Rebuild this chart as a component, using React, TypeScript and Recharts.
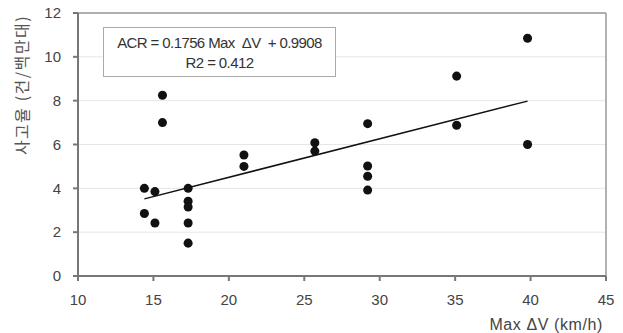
import {
  CartesianGrid,
  ReferenceLine,
  Scatter,
  ScatterChart,
  XAxis,
  YAxis,
  ZAxis,
} from "recharts";

// observed points (Max ΔV km/h, accident rate)
const maxDv = [
  14.4, 14.4, 15.1, 15.1, 15.6, 15.6, 17.3, 17.3, 17.3, 17.3, 17.3, 21.0, 21.0,
  25.7, 25.7, 29.2, 29.2, 29.2, 29.2, 35.1, 35.1, 39.8, 39.8,
];
const acr = [
  4.0, 2.85, 3.85, 2.42, 8.25, 7.0, 4.0, 3.41, 3.15, 2.42, 1.5, 5.0, 5.52, 6.08,
  5.7, 6.95, 5.02, 4.55, 3.92, 9.12, 6.88, 10.85, 6.0,
];

// regression line endpoints
const trendX = [14.4, 39.8];
const trendY = [3.52, 7.98];

const xTicks = [10, 15, 20, 25, 30, 35, 40, 45];
const yTicks = [0, 2, 4, 6, 8, 10, 12];

const points = maxDv.map((x, i) => ({ x, y: acr[i] }));
const trend = trendX.map((x, i) => ({ x, y: trendY[i] }));

const font = "'Liberation Sans', Arial, sans-serif";
const tickStyle = { fill: "#444", fontSize: 15, fontFamily: font };

export default function App() {
  return (
    <div style={{ position: "absolute", left: 0, top: 0, width: 623, height: 333, background: "#fff" }}>
      <ScatterChart width={623} height={333} margin={{ top: 13, right: 17, bottom: 0, left: 0 }}>
        <CartesianGrid vertical={false} stroke="#e6e6e6" />
        <XAxis
          type="number"
          dataKey="x"
          domain={[10, 45]}
          ticks={xTicks}
          height={57}
          tickSize={5}
          tickMargin={13}
          stroke="#777"
          strokeWidth={2}
          tick={tickStyle}
          label={{
            value: "Max ΔV (km/h)",
            position: "insideBottomRight",
            offset: 3,
            fill: "#444",
            fontSize: 16,
            letterSpacing: 0.6,
            fontFamily: font,
          }}
        />
        <YAxis
          type="number"
          dataKey="y"
          domain={[0, 12]}
          ticks={yTicks}
          width={78}
          tickSize={5}
          tickMargin={12}
          stroke="#777"
          strokeWidth={2}
          tick={tickStyle}
          label={() => (
            <text
              x={21}
              y={85}
              transform="rotate(-90 21 85)"
              textAnchor="middle"
              dominantBaseline="central"
              fill="#555"
              fontSize={16}
              letterSpacing={1.5}
              fontFamily="'Noto Sans CJK KR', sans-serif"
            >
              사고율 (건/백만대)
            </text>
          )}
        />
        <ZAxis range={[64, 64]} />
        <ReferenceLine y={12} stroke="#999" strokeWidth={1.5} />
        <ReferenceLine x={45} stroke="#999" strokeWidth={1.5} />
        <Scatter data={points} fill="#111" isAnimationActive={false} />
        <Scatter
          data={trend}
          line={{ stroke: "#111", strokeWidth: 1.5 }}
          shape={() => null}
          isAnimationActive={false}
        />
      </ScatterChart>
      <div
        style={{
          position: "absolute",
          left: 103,
          top: 27,
          width: 233,
          height: 50,
          border: "1px solid #aaa",
          background: "#fff",
          fontFamily: font,
          fontSize: 15,
          color: "#333",
          textAlign: "center",
          lineHeight: "20px",
          paddingTop: 5,
          boxSizing: "border-box",
          letterSpacing: -0.6,
        }}
      >
        <div>ACR = 0.1756 Max&nbsp; ΔV&nbsp; + 0.9908</div>
        <div>R2 = 0.412</div>
      </div>
    </div>
  );
}
